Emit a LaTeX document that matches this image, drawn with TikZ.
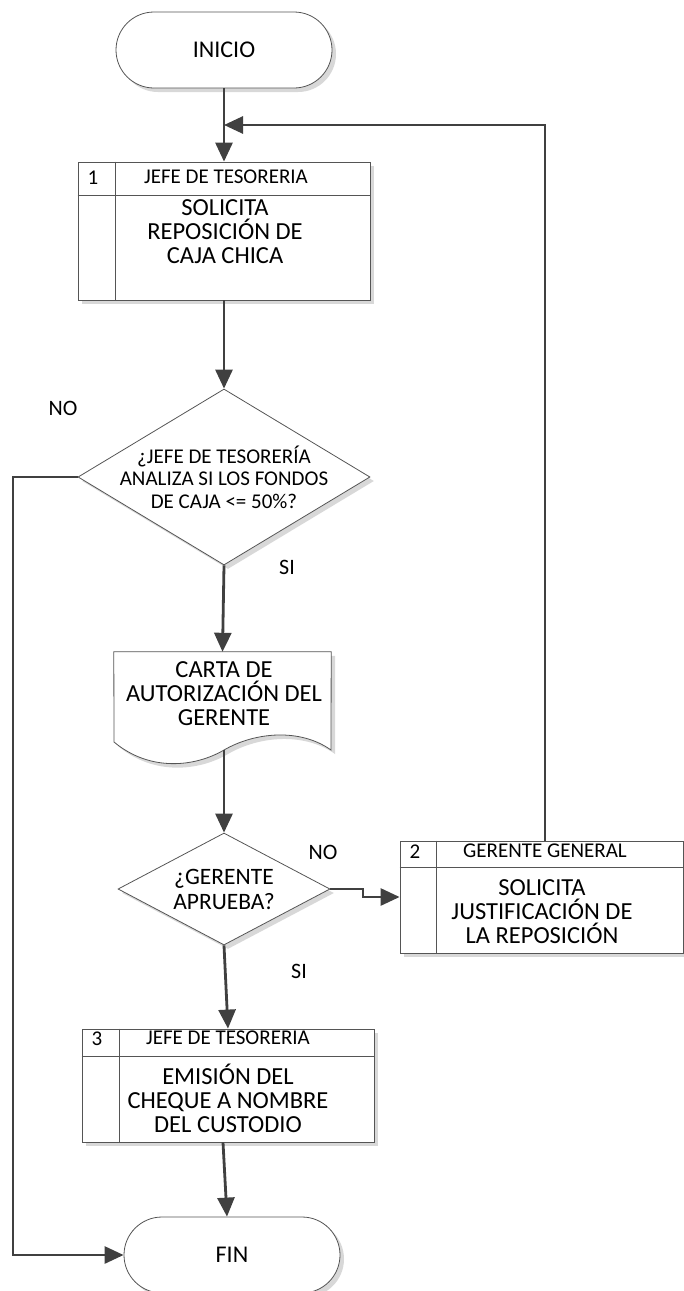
\documentclass[tikz,border=0pt]{standalone}
\usepackage{fontspec}
\setmainfont{Carlito}
\usetikzlibrary{arrows.meta,shapes.geometric,shadows,calc}

\definecolor{flowline}{HTML}{404040}
\definecolor{outline}{HTML}{555555}
\definecolor{shadowgray}{HTML}{D8D8D8}

\begin{document}
\begin{tikzpicture}[x=1pt,y=-1pt,
  shaded/.style={drop shadow={shadow xshift=4pt,shadow yshift=-4pt,fill=shadowgray,opacity=1}},
  shapeline/.style={draw=outline,line width=0.8pt},
  terminal/.style={shapeline,shaded,fill=white,rectangle,rounded corners=38pt,
    minimum width=216pt,minimum height=76pt,inner sep=0pt,font=\fontsize{24}{24}\selectfont},
  procbox/.style={shapeline,shaded,fill=white,rectangle,inner sep=0pt},
  decision/.style={shapeline,shaded,fill=white,diamond,inner sep=0pt},
  bodytext/.style={align=center,inner sep=0pt,font=\fontsize{24.5}{24}\selectfont},
  headtext/.style={inner sep=0pt,font=\fontsize{21}{21}\selectfont},
  asktext/.style={align=center,inner sep=0pt,font=\fontsize{21}{22.5}\selectfont},
  branch/.style={inner sep=0pt,font=\fontsize{22}{22}\selectfont},
  flow/.style={draw=flowline,line width=2.8pt,-{Triangle[length=19pt,width=17pt]}}
]
\useasboundingbox (0,0) rectangle (684,1291);

% start / end terminals
\node[terminal] (inicio) at (224,50) {INICIO};
\node[terminal] (fin) at (232,1255) {FIN};

% step 1
\node[procbox,minimum width=292pt,minimum height=138pt] (box1) at (224,231) {};
\draw[shapeline] ($(box1.north west)+(0,34)$) -- ($(box1.north east)+(0,34)$);
\draw[shapeline] ($(box1.north west)+(38,0)$) -- ($(box1.south west)+(38,0)$);
\node[headtext] (n1) at (93,178) {1};
\node[headtext] (h1) at (226,177) {JEFE DE TESORERIA};
\node[bodytext] (t1) at (225,232) {SOLICITA\\REPOSICIÓN DE\\CAJA CHICA};

% first decision
\node[decision,minimum width=292pt,minimum height=176pt] (d1) at (224,477) {};
\node[asktext] (q1) at (224,477) {¿JEFE DE TESORERÍA\\ANALIZA SI LOS FONDOS\\DE CAJA <= 50\%?};

% authorisation letter (document shape)
\node[inner sep=0pt,minimum width=217pt,minimum height=98pt] (doc) at (222.5,701) {};
\draw[shapeline,shaded,fill=white] (doc.north west) -- (doc.north east) -- (331,750)
  .. controls (300,728) and (255,732) .. (224,750)
  .. controls (195,767) and (150,772) .. (114,742) -- cycle;
\coordinate (docbot) at (224,750);
\node[bodytext] (t2) at (224,694) {CARTA DE\\AUTORIZACIÓN DEL\\GERENTE};

% second decision
\node[decision,minimum width=212pt,minimum height=112pt] (d2) at (224,889) {};
\node[asktext,font=\fontsize{23.5}{25}\selectfont] (q2) at (224,889) {¿GERENTE\\APRUEBA?};

% step 2
\node[procbox,minimum width=283pt,minimum height=112pt] (box2) at (541.5,897) {};
\draw[shapeline] ($(box2.north west)+(0,27)$) -- ($(box2.north east)+(0,27)$);
\draw[shapeline] ($(box2.north west)+(37,0)$) -- ($(box2.south west)+(37,0)$);
\node[headtext] (n2) at (415,852) {2};
\node[headtext] (h2) at (545,851) {GERENTE GENERAL};
\node[bodytext] (t3) at (542,912) {SOLICITA\\JUSTIFICACIÓN DE\\LA REPOSICIÓN};

% step 3
\node[procbox,minimum width=292pt,minimum height=113pt] (box3) at (228,1085.5) {};
\draw[shapeline] ($(box3.north west)+(0,28)$) -- ($(box3.north east)+(0,28)$);
\draw[shapeline] ($(box3.north west)+(38,0)$) -- ($(box3.south west)+(38,0)$);
\node[headtext] (n3) at (97,1039) {3};
\node[headtext] (h3) at (228,1038) {JEFE DE TESORERIA};
\node[bodytext] (t4) at (228,1098) {EMISIÓN DEL\\CHEQUE A NOMBRE\\DEL CUSTODIO};

% branch labels
\node[branch] (no1) at (63,408) {NO};
\node[branch] (si1) at (287,567) {SI};
\node[branch] (no2) at (323,852) {NO};
\node[branch] (si2) at (299,971) {SI};

% connectors
\coordinate (merge) at (224,125);
\coordinate (loopup) at (545,125);
\coordinate (loopstart) at (545,841);
\coordinate (leftup) at (13,477);
\coordinate (leftdown) at (13,1255);
\coordinate (jog1) at (363,889);
\coordinate (jog2) at (363,897);

\draw[flow] (inicio.south) -- (box1.north);
\draw[flow] (loopstart) -- (loopup) -- (merge);
\draw[flow] (box1.south) -- (d1.north);
\draw[flow] (d1.south) -- (doc.north);
\draw[flow] (docbot) -- (d2.north);
\draw[flow] (d1.west) -- (leftup) -- (leftdown) -- (fin.west);
\draw[flow] (d2.east) -- (jog1) -- (jog2) -- (box2.west);
\draw[flow] (d2.south) -- (box3.north);
\draw[flow] ($(box3.south)+(-5,0)$) -- ($(fin.north)+(-5,0)$);
\end{tikzpicture}
\end{document}
